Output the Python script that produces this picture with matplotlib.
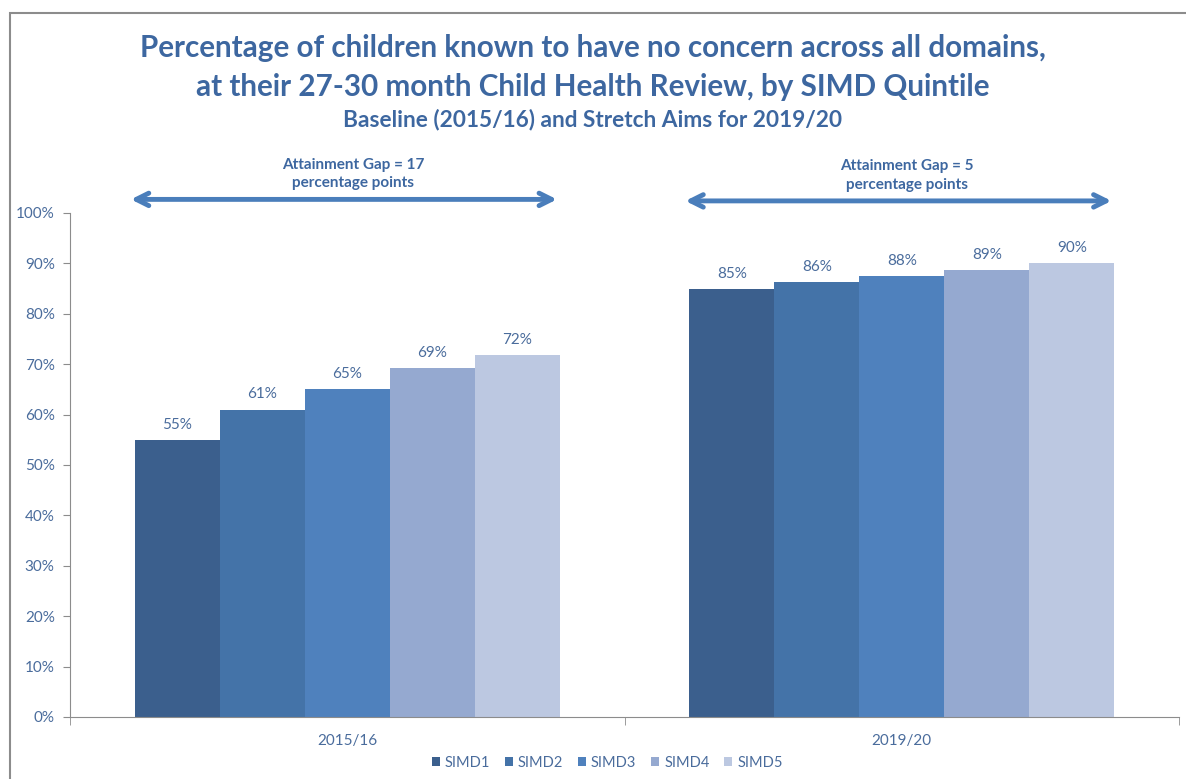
import numpy as np
import matplotlib
matplotlib.use("Agg")
from matplotlib import pyplot as plt
from matplotlib.patches import Rectangle

periods = ["2015/16", "2019/20"]
quintiles = ["SIMD1", "SIMD2", "SIMD3", "SIMD4", "SIMD5"]
baseline = [55.0, 61.0, 65.1, 69.3, 71.8]
stretch = [85.0, 86.25, 87.5, 88.75, 90.0]
gap_labels = ["Attainment Gap = 17\npercentage points", "Attainment Gap = 5\npercentage points"]

colors = ["#3B5F8D", "#4473A8", "#4F81BD", "#95A9D0", "#BCC8E1"]
title_color = "#3D67A0"
text_color = "#4A6C9C"
arrow_color = "#4A7EBB"

plt.rcParams["font.family"] = ["Lato", "DejaVu Sans"]

fig = plt.figure(figsize=(11.86, 7.79), dpi=100)
ax = fig.add_axes([70 / 1186, 1 - 717 / 779, 1109 / 1186, 504 / 779])

# outer chart frame
fig.patches.append(Rectangle((10 / 1186, -0.05), 1.2, 1 - 13 / 779 + 0.05, transform=fig.transFigure,
                             fill=False, edgecolor="#8c8c8c", lw=1.5))

x = np.arange(len(periods))
bar_w = 0.1533
series = np.array([baseline, stretch])
for i, name in enumerate(quintiles):
    xs = x + (i - 2) * bar_w
    vals = series[:, i]
    ax.bar(xs, vals, width=bar_w, color=colors[i], label=name, linewidth=0)
    for xv, v in zip(xs, vals):
        ax.text(xv, v + 1.6, f"{round(v):d}%", ha="center", va="bottom", fontsize=11, color=text_color)

ax.set_xlim(-0.5, 1.5)
ax.set_ylim(0, 100)
ax.set_yticks(np.arange(0, 101, 10))
ax.set_yticklabels([f"{v}%" for v in range(0, 101, 10)])
ax.set_xticks(x)
ax.set_xticklabels(periods)
ax.set_xticks([-0.5, 0.5, 1.5], minor=True)
ax.tick_params(axis="x", which="major", length=0, pad=12, labelsize=11, labelcolor=text_color)
ax.tick_params(axis="x", which="minor", length=6, color="#8c8c8c")
ax.tick_params(axis="y", length=5, color="#8c8c8c", labelsize=11, labelcolor=text_color, pad=6)
for side in ["top", "right"]:
    ax.spines[side].set_visible(False)
for side in ["left", "bottom"]:
    ax.spines[side].set_color("#8c8c8c")

# gap arrows above each group
trans = ax.get_xaxis_transform()
for xc, label, yf in zip(x, gap_labels, [1.027, 1.024]):
    left = xc - 2.5 * bar_w - 0.012
    right = xc + 2.5 * bar_w
    ax.annotate("", xy=(right, yf), xytext=(left, yf), xycoords=trans, textcoords=trans,
                annotation_clip=False,
                arrowprops=dict(arrowstyle="<->,head_length=0.9,head_width=0.45", color=arrow_color, lw=3.5))
    ax.text(xc + 0.01, yf + 0.018, label, transform=trans, ha="center", va="bottom",
            fontsize=11, fontweight="bold", color=title_color, linespacing=1.4)

fig.text(0.5, 1 - 48 / 779, "Percentage of children known to have no concern across all domains,",
         ha="center", va="center", fontsize=21.3, fontweight="bold", color=title_color)
fig.text(0.5, 1 - 87 / 779, "at their 27-30 month Child Health Review, by SIMD Quintile",
         ha="center", va="center", fontsize=21.3, fontweight="bold", color=title_color)
fig.text(0.5, 1 - 119 / 779, "Baseline (2015/16) and Stretch Aims for 2019/20",
         ha="center", va="center", fontsize=16.3, fontweight="bold", color=title_color)

leg = fig.legend(loc="center", bbox_to_anchor=(0.512, 1 - 763 / 779), ncol=5, frameon=False,
                 handlelength=0.55, handleheight=0.55, handletextpad=0.35, columnspacing=1.0,
                 fontsize=10.5)
for t in leg.get_texts():
    t.set_color(text_color)

fig.savefig("out.png", dpi=100)
